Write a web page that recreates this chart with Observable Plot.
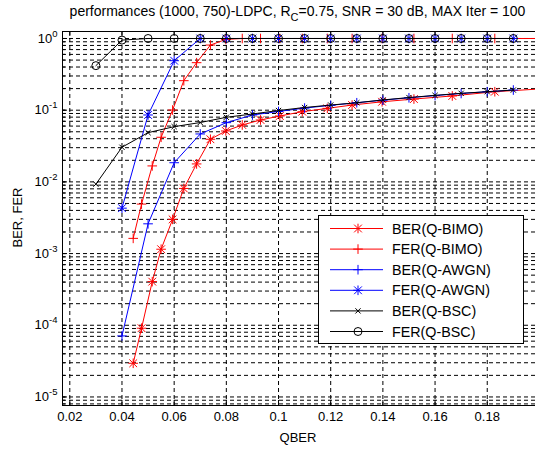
<!DOCTYPE html>
<html><head><meta charset="utf-8">
<script src="https://cdn.jsdelivr.net/npm/d3@7"></script>
<script src="https://cdn.jsdelivr.net/npm/@observablehq/plot@0.6"></script>
<style>
body{margin:0;background:#fff;font-family:"Liberation Sans",Arial,sans-serif;color:#000;}
#wrap{position:relative;width:535px;height:449px;overflow:hidden;background:#fff;}
#chart svg{position:absolute;left:0;top:0;}
.lbl{position:absolute;font-size:13px;white-space:nowrap;line-height:15px;}
#title{left:40px;width:515px;top:3px;text-align:center;font-size:14px;line-height:16px;}
#title sub{font-size:11px;vertical-align:-5px;line-height:0;}
#xlab{left:248px;width:100px;top:430px;text-align:center;}
#ylab{left:-33px;top:210px;width:100px;text-align:center;transform:rotate(-90deg);}
svg#legend{position:absolute;left:318px;top:215px;}
</style></head><body>
<div id="wrap">
<div id="chart"></div>
<div class="lbl" id="title">performances (1000, 750)-LDPC, R<sub>C</sub>=0.75, SNR = 30 dB, MAX Iter = 100</div>
<div class="lbl" id="xlab">QBER</div>
<div class="lbl" id="ylab">BER, FER</div>
<svg id="legend" width="206" height="129"></svg>
</div>
<script>
// ---- data ----
const xTicks = [0.02, 0.04, 0.06, 0.08, 0.1, 0.12, 0.14, 0.16, 0.18];
const yDecades = [1e-5, 1e-4, 1e-3, 1e-2, 1e-1, 1];

const bimoX   = [0.0443, 0.0475, 0.0516, 0.0550, 0.0594, 0.0637, 0.0686, 0.0739, 0.0798, 0.0861, 0.0931, 0.1005, 0.1091, 0.1187, 0.1282, 0.1397, 0.1519, 0.1666, 0.1829, 0.2004];
const bimoBER = [2.95e-5, 9.1e-5, 4.06e-4, 1.15e-3, 3.0e-3, 8.1e-3, 0.0178, 0.0393, 0.0513, 0.0622, 0.073, 0.083, 0.0953, 0.106, 0.118, 0.131, 0.143, 0.158, 0.181, 0.198];
const bimoFER = [1.63e-3, 4.9e-3, 0.0167, 0.0419, 0.1006, 0.258, 0.46, 0.81, 0.97, 1, 1, 1, 1, 1, 1, 1, 1, 1, 1, 1];

const awgnX   = [0.04, 0.05, 0.06, 0.07, 0.08, 0.09, 0.10, 0.11, 0.12, 0.13, 0.14, 0.15, 0.16, 0.17, 0.18, 0.19];
const awgnBER = [7.1e-5, 2.6e-3, 0.0185, 0.0466, 0.067, 0.0857, 0.096, 0.107, 0.117, 0.127, 0.138, 0.149, 0.160, 0.171, 0.181, 0.191];
const awgnFER = [0.0043, 0.0857, 0.49, 1, 1, 1, 1, 1, 1, 1, 1, 1, 1, 1, 1, 1];

const bscX   = [0.03, 0.04, 0.05, 0.06, 0.07, 0.08, 0.09, 0.10, 0.11, 0.12, 0.13, 0.14, 0.15, 0.16, 0.17, 0.18, 0.19];
const bscBER = [0.0093, 0.0304, 0.0486, 0.0589, 0.0673, 0.0796, 0.0885, 0.099, 0.109, 0.118, 0.127, 0.139, 0.150, 0.161, 0.172, 0.181, 0.191];
const bscFER = [0.418, 0.95, 1, 1, 1, 1, 1, 1, 1, 1, 1, 1, 1, 1, 1, 1, 1];

const seriesNames = ["BER(Q-BIMO)", "FER(Q-BIMO)", "BER(Q-AWGN)", "FER(Q-AWGN)", "BER(Q-BSC)", "FER(Q-BSC)"];
const seriesColors = ["#ff0000", "#ff0000", "#0000ff", "#0000ff", "#000000", "#000000"];
const seriesMarkers = ["star", "plus", "plus", "star", "times", "circle"];

// ---- tables ----
const tbl = (xs, ys) => xs.map((x, i) => ({x, y: ys[i]}));
const series = [
  tbl(bimoX, bimoBER), tbl(bimoX, bimoFER),
  tbl(awgnX, awgnBER), tbl(awgnX, awgnFER),
  tbl(bscX, bscBER), tbl(bscX, bscFER)
];

const xDomain = [0.0172, 0.1985];
const yDomain = [7.6e-6, 1.252];
const W = 535, H = 449, mT = 31, mB = 44, mL = 62, mR = 0;
const plotW = W - mL - mR, plotH = H - mT - mB;

const yMinor = [];
for (let e = -6; e <= 0; e++) for (let k = 1; k <= 9; k++) {
  const v = +(k * Math.pow(10, e)).toPrecision(6);
  if (v >= yDomain[0] && v <= yDomain[1]) yMinor.push(v);
}

const markerMarks = (data, color, m) => {
  const o = {x: "x", y: "y", stroke: color, fill: "none", strokeWidth: 1, clip: true};
  if (m === "star") return [Plot.dot(data, {...o, symbol: "plus", r: 3.2}), Plot.dot(data, {...o, symbol: "times", r: 3.6})];
  if (m === "plus") return [Plot.dot(data, {...o, symbol: "plus", r: 3.2})];
  if (m === "times") return [Plot.dot(data, {...o, symbol: "times", r: 2.5})];
  return [Plot.dot(data, {...o, symbol: "circle", r: 4})];
};

const dataMarks = [];
series.forEach((d, i) => {
  dataMarks.push(Plot.line(d, {x: "x", y: "y", stroke: seriesColors[i], strokeWidth: 1, clip: true}));
  dataMarks.push(...markerMarks(d, seriesColors[i], seriesMarkers[i]));
});

const grid = {stroke: "#000", strokeWidth: 1, strokeDasharray: "4,3", strokeOpacity: 1};

const chart = Plot.plot({
  width: W, height: H,
  marginTop: mT, marginBottom: mB, marginLeft: mL, marginRight: mR,
  x: {type: "linear", domain: xDomain},
  y: {type: "log", domain: yDomain},
  style: {fontFamily: "'Liberation Sans', Arial, sans-serif", fontSize: "13px", color: "#000", background: "transparent", overflow: "visible"},
  marks: [
    Plot.ruleY(yMinor, grid),
    Plot.ruleX(xTicks, grid),
    // inward ticks
    Plot.ruleX(xTicks, {stroke: "#000", insetTop: plotH - 5}),
    Plot.ruleX(xTicks, {stroke: "#000", insetBottom: plotH - 5}),
    Plot.ruleY(yDecades, {stroke: "#000", insetRight: plotW - 5}),
    Plot.ruleY(yMinor, {stroke: "#000", insetRight: plotW - 3}),
    ...dataMarks,
    // axes box
    Plot.ruleY([yDomain[0], yDomain[1]], {stroke: "#000", strokeWidth: 1}),
    Plot.ruleX([xDomain[0]], {stroke: "#000", strokeWidth: 1}),
    Plot.axisX(xTicks, {tickSize: 0, tickPadding: 6, tickFormat: d => String(+d.toFixed(2)), label: null, fontSize: 13}),
    Plot.axisY(yDecades, {tickSize: 0, tickPadding: 5, tickFormat: d => String(Math.round(Math.log10(d))), label: null, fontSize: 13})
  ]
});
document.getElementById("chart").appendChild(chart);

// superscript exponents on y tick labels
chart.querySelectorAll('[aria-label="y-axis tick label"] text').forEach(t => {
  const e = t.textContent;
  t.textContent = "10";
  const ts = document.createElementNS("http://www.w3.org/2000/svg", "tspan");
  ts.setAttribute("dy", "-6");
  ts.setAttribute("font-size", "9.5");
  ts.textContent = e;
  t.appendChild(ts);
});

// legend
const lg = d3.select("#legend");
lg.append("rect").attr("x", 0.5).attr("y", 0.5).attr("width", 205).attr("height", 128)
  .attr("fill", "#fff").attr("stroke", "#000");
const symOf = {plus: [[d3.symbolPlus, 3.2]], times: [[d3.symbolTimes, 2.5]], circle: [[d3.symbolCircle, 4]], star: [[d3.symbolPlus, 3.2], [d3.symbolTimes, 3.6]]};
seriesNames.forEach((name, i) => {
  const cy = 13.5 + i * 20.6;
  const g = lg.append("g").attr("transform", `translate(0,${cy})`);
  g.append("line").attr("x1", 12).attr("x2", 65).attr("y1", 0).attr("y2", 0).attr("stroke", seriesColors[i]);
  symOf[seriesMarkers[i]].forEach(([s, r]) => {
    g.append("path").attr("transform", "translate(40,0)").attr("d", d3.symbol(s, r * r * Math.PI)())
      .attr("fill", "none").attr("stroke", seriesColors[i]);
  });
  g.append("text").attr("x", 74).attr("y", 0).attr("dy", "0.35em").attr("font-size", 14.3)
    .attr("font-family", "'Liberation Sans', Arial, sans-serif").text(name);
});
</script>
</body></html>
